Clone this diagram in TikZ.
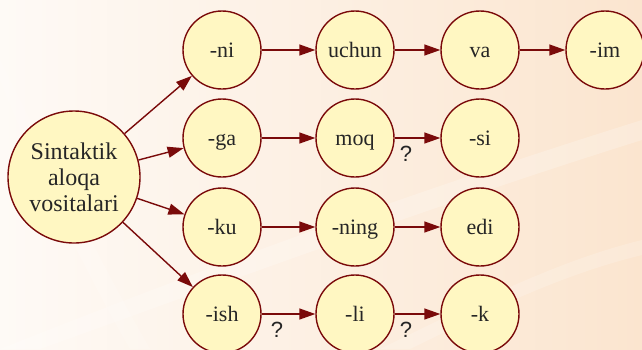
\documentclass[tikz,border=0pt]{standalone}
\usepackage{fontspec}
\setmainfont{Liberation Serif}
\newfontfamily\qfont{Liberation Sans}
\usetikzlibrary{arrows.meta}
\definecolor{edgered}{HTML}{7A0A0A}
\definecolor{cellfill}{HTML}{FFF7C2}
\definecolor{inktext}{HTML}{262626}
\definecolor{bgpale}{HTML}{FEFAF6}
\definecolor{bgpeach}{HTML}{FBE5CF}
\tikzset{
  word/.style={circle, draw=edgered, line width=1.4pt, fill=cellfill,
    minimum size=78pt, inner sep=0pt, text=inktext,
    text height=14pt, text depth=0pt,
    font=\fontsize{22}{25}\selectfont},
  hub/.style={circle, draw=edgered, line width=1.4pt, fill=cellfill,
    minimum size=132pt, inner sep=0pt, text=inktext, align=center,
    font=\fontsize{24}{26}\selectfont},
  link/.style={draw=edgered, line width=1.4pt,
    -{Triangle[length=16pt,width=11pt]}},
  qmark/.style={text=inktext, font=\qfont\fontsize{22}{24}\selectfont}
}
\begin{document}
\begin{tikzpicture}[x=1pt,y=-1pt]
  \useasboundingbox (0,0) rectangle (642,349);
  % background wash with soft light streaks
  \shade[shading angle=-60, left color=bgpale, right color=bgpeach]
    (0,0) rectangle (642,349);
  \fill[white, opacity=0.22] (0,349) .. controls (250,250) and (450,180) .. (642,120)
    -- (642,140) .. controls (450,200) and (260,270) .. (40,349) -- cycle;
  \fill[white, opacity=0.15] (0,80) .. controls (40,180) and (90,280) .. (130,349)
    -- (150,349) .. controls (110,280) and (60,180) .. (0,60) -- cycle;
  \fill[white, opacity=0.18] (380,349) .. controls (480,300) and (560,260) .. (642,240)
    -- (642,255) .. controls (560,275) and (490,310) .. (410,349) -- cycle;

  % central node
  \node[hub] (root) at (74,177) {Sintaktik\\aloqa\\vositalari};

  % row 1
  \node[word] (ni)    at (222,50) {-ni};
  \node[word] (uchun) at (355,50) {uchun};
  \node[word] (va)    at (480,50) {va};
  \node[word] (im)    at (605,50) {-im};
  % row 2
  \node[word] (ga)  at (222,138) {-ga};
  \node[word] (moq) at (355,138) {moq};
  \node[word] (si)  at (480,138) {-si};
  % row 3
  \node[word] (ku)   at (222,227) {-ku};
  \node[word] (ning) at (355,227) {-ning};
  \node[word] (edi)  at (480,227) {edi};
  % row 4
  \node[word] (ish) at (222,314) {-ish};
  \node[word] (li)  at (355,314) {-li};
  \node[word] (k)   at (480,314) {-k};

  % connectors
  \foreach \t in {ni,ga,ku,ish} \draw[link] (root) -- (\t);
  \draw[link] (ni) -- (uchun);
  \draw[link] (uchun) -- (va);
  \draw[link] (va) -- (im);
  \draw[link] (ga) -- (moq);
  \draw[link] (moq) -- (si);
  \draw[link] (ku) -- (ning);
  \draw[link] (ning) -- (edi);
  \draw[link] (ish) -- (li);
  \draw[link] (li) -- (k);

  % question marks under uncertain links
  \node[qmark] (q1) at (406,154) {?};
  \node[qmark] (q2) at (277,330) {?};
  \node[qmark] (q3) at (406,330) {?};
\end{tikzpicture}
\end{document}
